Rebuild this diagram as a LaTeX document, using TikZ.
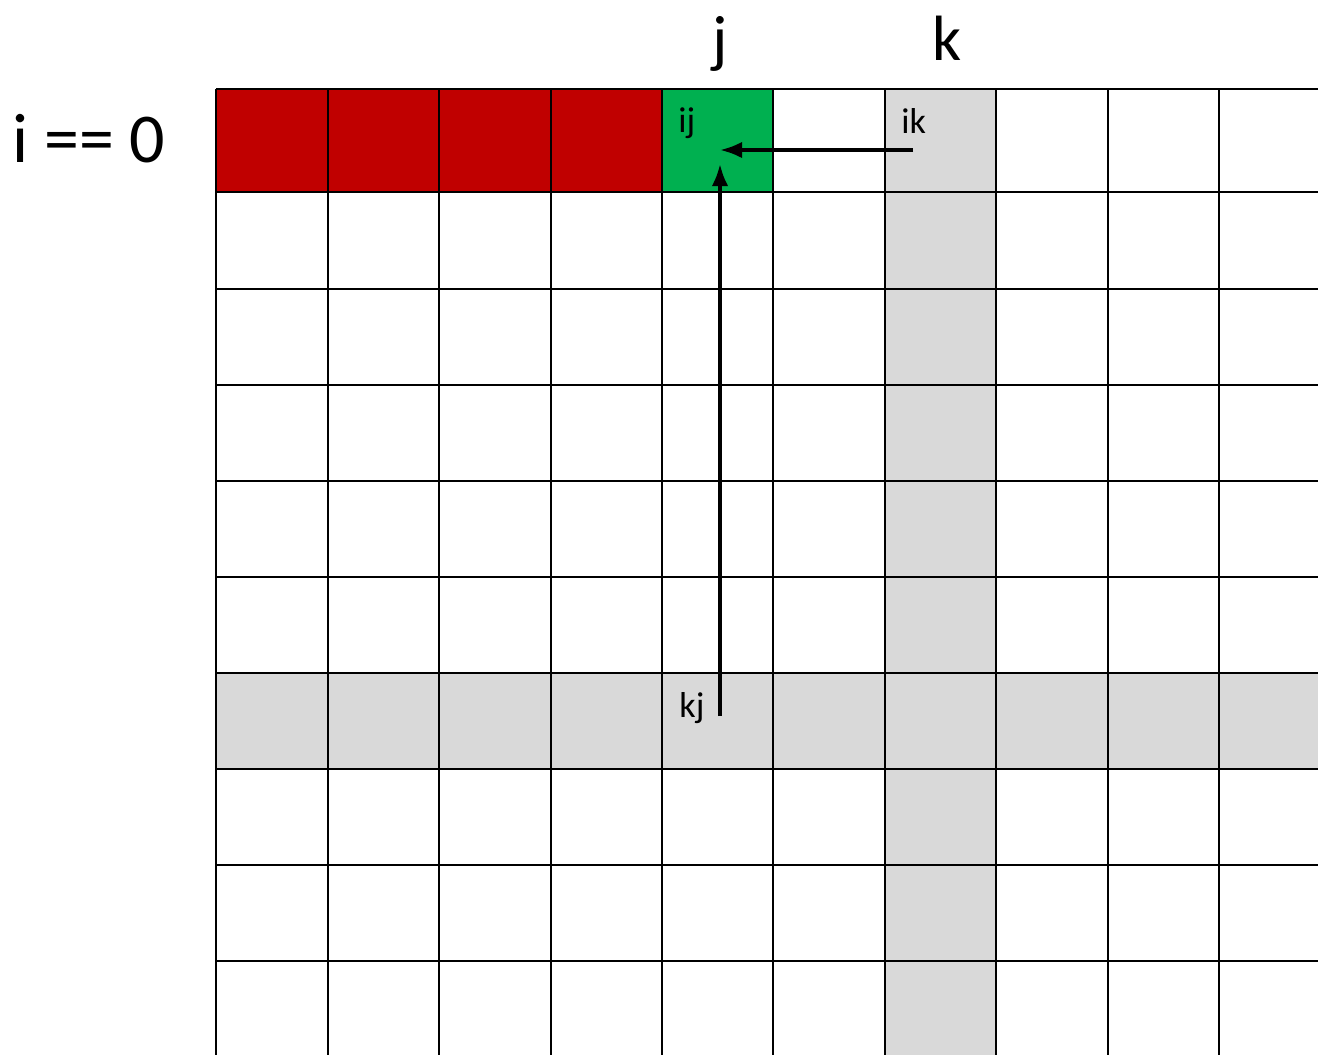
\documentclass[tikz,border=0pt]{standalone}
\usepackage{fontspec}
\setmainfont{Carlito}
\usepackage{xcolor}
\usetikzlibrary{arrows.meta}
\definecolor{rowred}{HTML}{C00000}
\definecolor{cellgreen}{HTML}{00B050}
\definecolor{bandgray}{HTML}{D9D9D9}

\begin{document}
\begin{tikzpicture}[
  x=0.5pt, y=-0.5pt,
  gridline/.style={black, line width=1.2pt},
  biglbl/.style={font=\fontsize{32}{36}\selectfont, inner sep=0pt, anchor=base},
  celllbl/.style={font=\fontsize{18}{20}\selectfont, inner sep=0pt, anchor=base west},
  arrow/.style={-Latex, line width=1.8pt}
]
\useasboundingbox (0,0) rectangle (1318,1055);

% fills
\fill[bandgray] (885,89) rectangle (996,1055);
\fill[bandgray] (216,673) rectangle (1318,769);
\fill[rowred] (216,89) rectangle (662,192);
\fill[cellgreen] (662,89) rectangle (773,192);

% grid
\foreach \y in {89,192,289,385,481,577,673,769,865,961}
  \draw[gridline] (216,\y) -- (1318,\y);
\foreach \x in {216,328,439,551,662,773,885,996,1108,1219}
  \draw[gridline] (\x,89) -- (\x,1055);

% labels
\node[biglbl, anchor=base west, font=\fontsize{35}{40}\selectfont] (irow) at (12,162) {i == 0};
\node[biglbl] (jcol) at (720,60) {j};
\node[biglbl] (kcol) at (947,60) {k};
\node[celllbl] (ij) at (678,132) {ij};
\node[celllbl] (ik) at (901,133) {ik};
\node[celllbl] (kj) at (679,717) {kj};

% arrows
\coordinate (ikend) at (913,150);
\coordinate (ijleft) at (720,150);
\coordinate (kjend) at (720,716);
\coordinate (ijbelow) at (720,164);
\draw[arrow] (ikend) -- (ijleft);
\draw[arrow] (kjend) -- (ijbelow);
\end{tikzpicture}
\end{document}
